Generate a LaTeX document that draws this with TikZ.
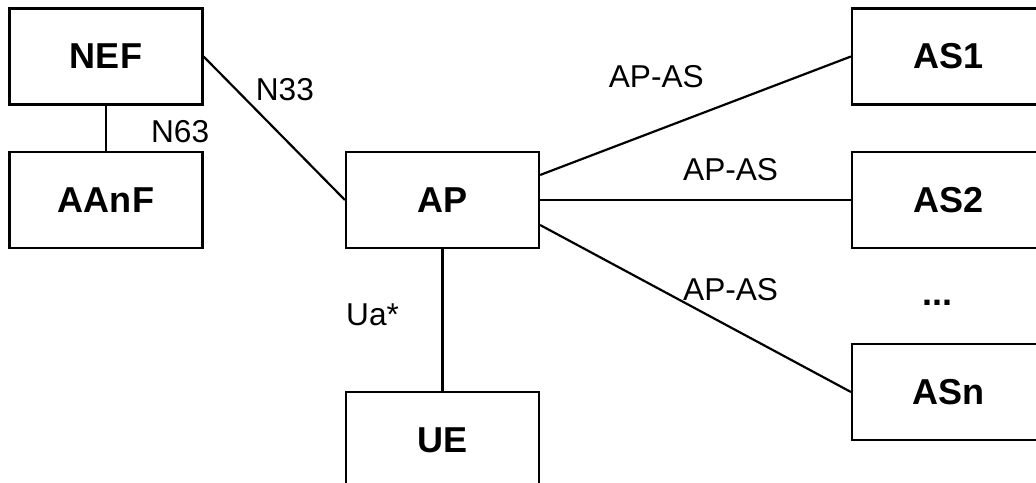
\documentclass[tikz,border=0pt]{standalone}
\usepackage{fontspec}
\setmainfont{Liberation Sans}
\usetikzlibrary{positioning}
\tikzset{
    box/.style={draw, line width=1.25pt, minimum width=3.86cm, minimum height=1.92cm, inner sep=0pt,
        font=\fontsize{20.5}{24}\selectfont\bfseries},
    iface/.style={inner sep=0pt, font=\fontsize{18}{22}\selectfont}
}
\begin{document}
\begin{tikzpicture}[x=0.02cm, y=-0.02cm, line width=1.25pt]
    \useasboundingbox (0,0) rectangle (1036,483);
    \clip (0,0) rectangle (1036,483);
    % network functions
    \node[box] (NEF) at (106,56.5) {NEF};
    \node[box] (AAnF) at (106,200) {AAnF};
    \node[box] (AP) at (442.5,200) {AP};
    \node[box] (UE) at (442.5,440) {UE};
    % application servers
    \node[box] (AS1) at (948.5,56.5) {AS1};
    \node[box] (AS2) at (948.5,200) {AS2};
    \node[box] (ASn) at (948.5,392) {ASn};
    \node[box, draw=none, minimum width=0pt, minimum height=0pt] (dots) at (937.5,303) {...};
    % interfaces
    \draw (NEF) -- node[iface, pos=0.57, right=0.88cm] {N63} (AAnF);
    \draw (NEF.east) -- node[iface, pos=0.34, above right=0.09cm] {N33} (AP.west);
    \draw (AP) -- node[iface, pos=0.465, left=0.85cm] {Ua*} (UE);
    \draw ([yshift=0.5cm]AP.east) -- node[iface, pos=0.374, above=0.83cm] {AP-AS} (AS1.west);
    \draw (AP.east) -- node[iface, pos=0.613, above=0.36cm] {AP-AS} (AS2.west);
    \draw ([yshift=-0.5cm]AP.east) -- node[iface, pos=0.613, above=0.5cm] {AP-AS} (ASn.west);
\end{tikzpicture}
\end{document}
